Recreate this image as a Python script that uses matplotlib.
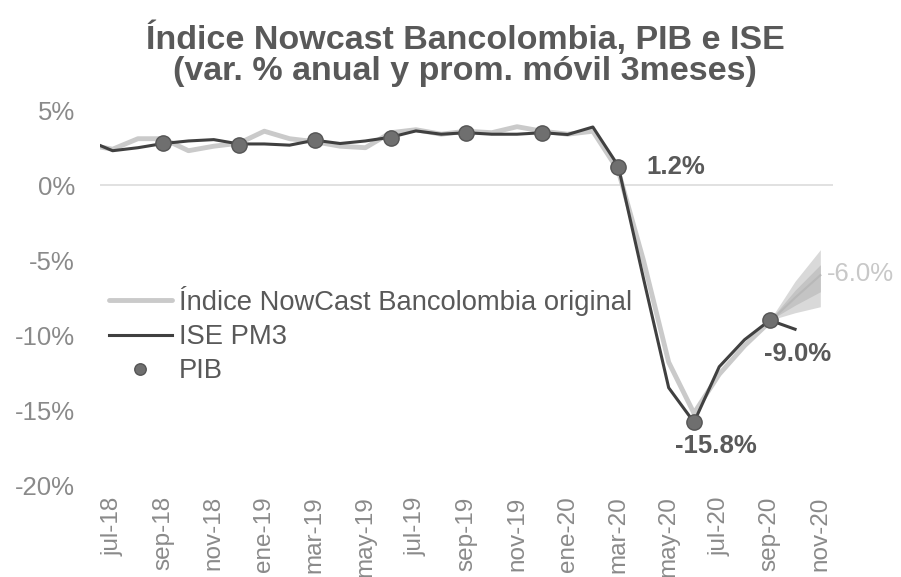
import matplotlib

matplotlib.use("Agg")
import matplotlib.pyplot as plt
import numpy as np

plt.rcParams["font.family"] = ["Liberation Sans", "DejaVu Sans"]

# monthly categories jul-18 .. nov-20 (plus jun-18 which is clipped at the left edge)
months = ["jun-18", "jul-18", "ago-18", "sep-18", "oct-18", "nov-18", "dic-18",
          "ene-19", "feb-19", "mar-19", "abr-19", "may-19", "jun-19", "jul-19",
          "ago-19", "sep-19", "oct-19", "nov-19", "dic-19", "ene-20", "feb-20",
          "mar-20", "abr-20", "may-20", "jun-20", "jul-20", "ago-20", "sep-20",
          "oct-20", "nov-20"]
tick_labels = ["jul-18", "sep-18", "nov-18", "ene-19", "mar-19", "may-19", "jul-19",
               "sep-19", "nov-19", "ene-20", "mar-20", "may-20", "jul-20", "sep-20",
               "nov-20"]

# ISE PM3 (jun-18 .. oct-20)
ise = [3.0, 2.3, 2.5, 2.78, 2.95, 3.04, 2.75, 2.75, 2.67, 3.0, 2.78, 2.95, 3.2,
       3.62, 3.4, 3.5, 3.4, 3.4, 3.5, 3.38, 3.88, 1.3, -6.2, -13.5, -15.8, -12.1,
       -10.3, -9.0, -9.6]

# Indice NowCast Bancolombia original (jun-18 .. sep-20)
nowcast = [2.7, 2.4, 3.1, 3.1, 2.3, 2.6, 2.8, 3.6, 3.1, 2.9, 2.6, 2.5, 3.5, 3.7,
           3.4, 3.6, 3.5, 3.9, 3.6, 3.4, 3.6, 1.0, -5.0, -11.8, -15.2, -12.6,
           -10.7, -9.1]

# nowcast projection fan (sep-20 .. nov-20)
fan_months = ["sep-20", "oct-20", "nov-20"]
fan_mid = [-9.1, -7.5, -6.0]
fan_hi = [-9.0, -6.4, -4.3]
fan_lo = [-9.0, -8.5, -8.1]
fan_in_hi = [-9.0, -7.0, -5.3]
fan_in_lo = [-9.0, -8.0, -7.1]

# PIB (quarterly)
pib_months = ["sep-18", "dic-18", "mar-19", "jun-19", "sep-19", "dic-19",
              "mar-20", "jun-20", "sep-20"]
pib = [2.8, 2.7, 3.0, 3.15, 3.5, 3.5, 1.2, -15.8, -9.0]

yticks = [5, 0, -5, -10, -15, -20]

TEXT = "#595959"
TICK = "#8a8a8a"

pos = {m: i - 1 for i, m in enumerate(months)}  # jul-18 -> 0

fig = plt.figure(figsize=(9.01, 5.77), dpi=100)
ax = fig.add_axes([0.111, 0.159, 0.8135, 0.65])

ax.axhline(0, color="#dcdcdc", linewidth=1.2, zorder=1)

fx = [pos[m] for m in fan_months]
ax.fill_between(fx, fan_lo, fan_hi, color="#d9d9d9", linewidth=0, zorder=2)
ax.fill_between(fx, fan_in_lo, fan_in_hi, color="#c4c4c4", linewidth=0, zorder=2)
ax.plot(fx, fan_mid, color="#b8b8b8", linewidth=1.5, zorder=2)

ax.plot([pos[m] for m in months[:len(nowcast)]], nowcast, color="#cacaca",
        linewidth=3.5, solid_capstyle="round", zorder=3,
        label="Índice NowCast Bancolombia original")
ax.plot([pos[m] for m in months[:len(ise)]], ise, color="#404040", linewidth=2.2,
        zorder=4, label="ISE PM3")
ax.plot([pos[m] for m in pib_months], pib, linestyle="none", marker="o",
        markersize=11, color="#6f6f6f", markeredgecolor="#555555", zorder=5,
        label="PIB")

# data labels
lab = dict(fontsize=18.5, fontweight="bold", color=TEXT, textcoords="offset points")
ax.annotate("1.2%", (pos["mar-20"], pib[6]), xytext=(20, 0), ha="left", va="center", **lab)
ax.annotate("-15.8%", (pos["jun-20"], pib[7]), xytext=(16, -17), ha="center",
            va="center", **lab)
ax.annotate("-9.0%", (pos["sep-20"], pib[8]), xytext=(20, -24), ha="center",
            va="center", **lab)
ax.annotate("-6.0%", (pos["nov-20"], fan_mid[-1]), xytext=(5, 1), textcoords="offset points",
            ha="left", va="center", fontsize=18.5, color="#c8c8c8")

ax.set_xlim(-0.5, 28.5)
ax.set_ylim(-20, 5)
ax.set_xticks([pos[m] for m in tick_labels], tick_labels, rotation=90)
ax.set_yticks(yticks, [f"{v}%" for v in yticks])
ax.tick_params(axis="x", length=0, pad=8, labelsize=17.5, labelcolor=TICK)
ax.tick_params(axis="y", length=0, pad=18, labelsize=18.5, labelcolor=TICK)
for side in ax.spines.values():
    side.set_visible(False)

leg = ax.legend(loc="center left", bbox_to_anchor=(0.012, 0.40), frameon=False,
                fontsize=19.7, handlelength=2.3, handletextpad=0.25, labelspacing=0.3,
                borderpad=0, borderaxespad=0, markerscale=0.75)
for t in leg.get_texts():
    t.set_color(TEXT)

fig.text(0.516, 0.906, "Índice Nowcast Bancolombia, PIB e ISE\n(var. % anual y prom. móvil 3meses)",
         ha="center", va="center", fontsize=24.5, fontweight="bold", color=TEXT,
         linespacing=1.03)

fig.savefig("out.png", dpi=100, facecolor="white")
